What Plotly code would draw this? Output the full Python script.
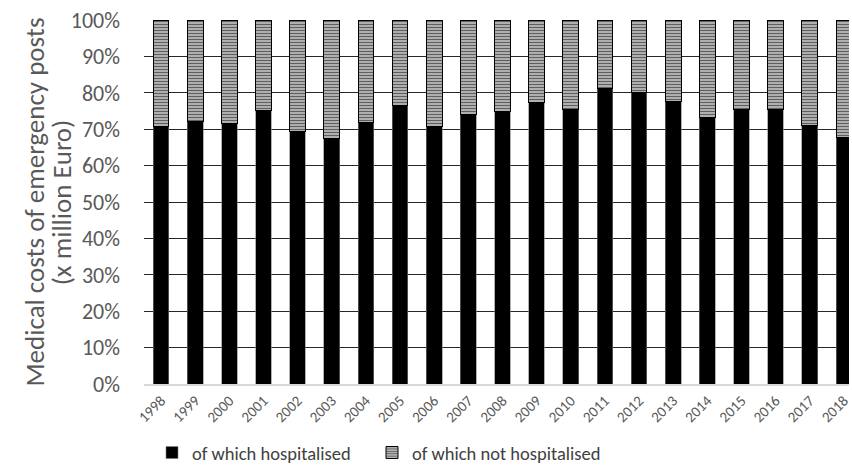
import plotly.graph_objects as go

# Share of medical costs of emergency posts, by year (%)
years = ["1998", "1999", "2000", "2001", "2002", "2003", "2004", "2005", "2006", "2007",
         "2008", "2009", "2010", "2011", "2012", "2013", "2014", "2015", "2016", "2017", "2018"]
hospitalised = [70.8, 72.1, 71.5, 75.2, 69.3, 67.4, 71.9, 76.6, 70.8, 74.0,
                75.0, 77.2, 75.4, 81.3, 80.2, 77.6, 73.1, 75.4, 75.4, 71.0, 67.8]
not_hospitalised = [29.2, 27.9, 28.5, 24.8, 30.7, 32.6, 28.1, 23.4, 29.2, 26.0,
                    25.0, 22.8, 24.6, 18.7, 19.8, 22.4, 26.9, 24.6, 24.6, 29.0, 32.2]
y_ticks = [0, 10, 20, 30, 40, 50, 60, 70, 80, 90, 100]
y_title_lines = ["Medical costs of emergency posts", "(x million Euro)"]

FONT = "Carlito, Lato, sans-serif"
GREY_TEXT = "#595959"

# plot area geometry (px) used to place the two-line axis title
L_MARGIN, PLOT_W = 144, 852 - 144

fig = go.Figure()
fig.add_trace(go.Bar(
    x=years, y=hospitalised, name="of which hospitalised",
    width=0.46, legend="legend",
    marker=dict(color="#000000", line=dict(color="#7f7f7f", width=0.6)),
))
fig.add_trace(go.Bar(
    x=years, y=not_hospitalised, name="of which not hospitalised",
    width=0.46, legend="legend2",
    marker=dict(
        color="#ffffff",
        line=dict(color="#000000", width=1),
        pattern=dict(shape="-", fgcolor="#000000", bgcolor="#bfbfbf",
                     size=3, solidity=0.45),
    ),
))

# y-axis title, one rotated annotation per line
for line_text, cx in zip(y_title_lines, [34, 61]):
    fig.add_annotation(
        text=line_text, textangle=-90,
        xref="paper", yref="paper",
        x=(cx - L_MARGIN) / PLOT_W, y=0.5,
        xanchor="center", yanchor="middle",
        showarrow=False,
        font=dict(family=FONT, size=27, color=GREY_TEXT),
    )

legend_style = dict(
    orientation="h",
    xref="container", yref="container",
    xanchor="left",
    y=1 - 453 / 472, yanchor="middle",
    font=dict(family=FONT, size=18.5, color="#404040"),
)

fig.update_layout(
    width=852, height=472,
    barmode="stack",
    plot_bgcolor="#ffffff", paper_bgcolor="#ffffff",
    margin=dict(l=L_MARGIN, r=0, t=20, b=88),
    font=dict(family=FONT, color=GREY_TEXT),
    showlegend=True,
    legend=dict(x=152 / 852, **legend_style),
    legend2=dict(x=372 / 852, **legend_style),
    xaxis=dict(
        type="category",
        range=[-0.5, 20.15],
        tickangle=-45,
        tickfont=dict(family=FONT, size=15, color=GREY_TEXT),
        showgrid=False,
        showline=True, linecolor="#d9d9d9", linewidth=2,
        ticks="",
    ),
    yaxis=dict(
        range=[0, 100],
        tickvals=y_ticks,
        ticktext=[f"{v}%" for v in y_ticks],
        tickfont=dict(family=FONT, size=22, color=GREY_TEXT),
        ticklabelstandoff=23,
        showgrid=True, gridcolor="#262626", gridwidth=1.2,
        zeroline=False,
        ticks="",
    ),
)

fig.write_html("out.html")
